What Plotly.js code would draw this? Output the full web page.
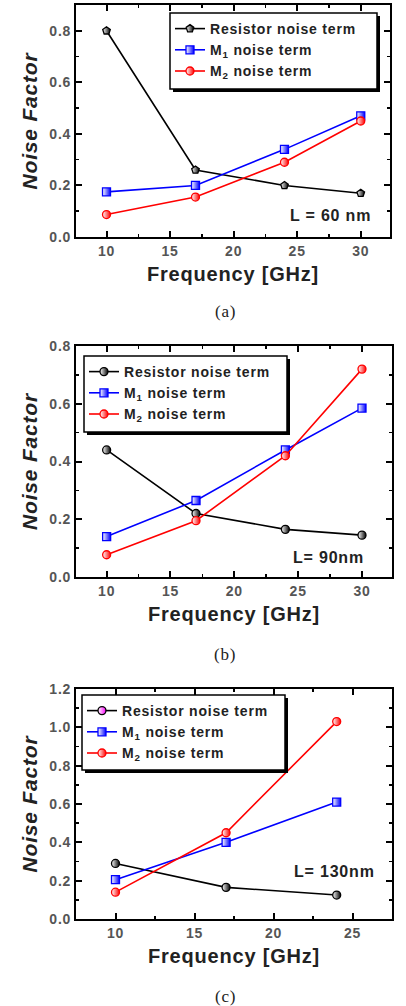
<!DOCTYPE html>
<html>
<head>
<meta charset="utf-8">
<script src="https://cdn.plot.ly/plotly-3.0.1.min.js"></script>
<style>
  html, body { margin: 0; padding: 0; background: #fff; }
  #chart { width: 406px; height: 1006px; }
  svg text { letter-spacing: 0.8px; }
</style>
</head>
<body>
<div id="chart"></div>
<script>
// Noise factor contributions vs. frequency for three gate lengths
const freqA = [10, 17, 24, 30];
const resistorA = [0.80, 0.26, 0.20, 0.17];
const m1A = [0.175, 0.20, 0.34, 0.47];
const m2A = [0.087, 0.155, 0.29, 0.45];

const freqB = [10, 17, 24, 30];
const resistorB = [0.44, 0.22, 0.165, 0.145];
const m1B = [0.14, 0.265, 0.44, 0.585];
const m2B = [0.077, 0.195, 0.42, 0.72];

const freqC = [10, 17, 24];
const resistorC = [0.29, 0.165, 0.125];
const m1C = [0.205, 0.40, 0.61];
const m2C = [0.14, 0.45, 1.03];

const seriesNames = ['Resistor noise term', 'M<sub>1</sub> noise term', 'M<sub>2</sub> noise term'];
const gateLabels = ['L = 60 nm', 'L= 90nm', 'L= 130nm'];
const panelLabels = ['(a)', '(b)', '(c)'];

// Figure geometry (pixels); the plot area spans x 76..392, y 5..919
const W = 406, H = 1006;
const M = { l: 76, r: 14, t: 5, b: 87 };
const PW = W - M.l - M.r, PH = H - M.t - M.b;
const px = x => (x - M.l) / PW;
const py = y => (H - M.b - y) / PH;

const SANS = 'Liberation Sans, Arial, sans-serif';
const SERIF = 'Liberation Serif, Times New Roman, serif';

function series(x, y, name, color, symbol, xa, ya, legend, showlegend, legendColor) {
  return {
    type: 'scatter', mode: 'lines+markers', x, y, name,
    xaxis: xa, yaxis: ya, legend, showlegend,
    line: { color, width: 1.6 },
    marker: {
      symbol, size: 8, color: 'white',
      gradient: { type: 'horizontal', color: legendColor || color },
      line: { color, width: 1.3 }
    },
    hoverinfo: 'skip'
  };
}

const traces = [
  series(freqA, resistorA, seriesNames[0], '#000000', 'pentagon', 'x', 'y', 'legend', true),
  series(freqA, m1A, seriesNames[1], '#0000ff', 'square', 'x', 'y', 'legend', true),
  series(freqA, m2A, seriesNames[2], '#ff0000', 'circle', 'x', 'y', 'legend', true),

  series(freqB, resistorB, seriesNames[0], '#000000', 'circle', 'x2', 'y2', 'legend2', true),
  series(freqB, m1B, seriesNames[1], '#0000ff', 'square', 'x2', 'y2', 'legend2', true),
  series(freqB, m2B, seriesNames[2], '#ff0000', 'circle', 'x2', 'y2', 'legend2', true),

  // legend entry for panel (c) carries a magenta swatch
  series([null], [null], seriesNames[0], '#000000', 'circle', 'x3', 'y3', 'legend3', true, '#ff00ff'),
  series(freqC, resistorC, seriesNames[0], '#000000', 'circle', 'x3', 'y3', 'legend3', false),
  series(freqC, m1C, seriesNames[1], '#0000ff', 'square', 'x3', 'y3', 'legend3', true),
  series(freqC, m2C, seriesNames[2], '#ff0000', 'circle', 'x3', 'y3', 'legend3', true)
];

const tickFont = { family: SANS, size: 14, color: '#555555', weight: 'bold' };
const titleFont = { family: SANS, size: 20, color: '#222222', weight: 'bold' };

function xAxis(domain, range, anchor) {
  return {
    domain, range, anchor,
    tick0: 0, dtick: 5,
    ticks: 'inside', ticklen: 6, tickwidth: 2, tickcolor: '#000',
    minor: { dtick: 2.5, ticks: 'inside', ticklen: 3, tickwidth: 1.5, tickcolor: '#000' },
    showline: true, linewidth: 2, linecolor: '#000', mirror: 'ticks',
    showgrid: false, zeroline: false,
    tickfont: tickFont,
    title: { text: 'Frequency [GHz]', font: titleFont, standoff: 9 }
  };
}

function yAxis(domain, range, anchor, dtick) {
  return {
    domain, range, anchor,
    tick0: 0, dtick,
    tickformat: '.1f',
    ticks: 'inside', ticklen: 6, tickwidth: 2, tickcolor: '#000',
    minor: { dtick: dtick / 2, ticks: 'inside', ticklen: 3, tickwidth: 1.5, tickcolor: '#000' },
    showline: true, linewidth: 2, linecolor: '#000', mirror: 'ticks',
    showgrid: false, zeroline: false,
    tickfont: tickFont,
    title: { text: 'Noise <i>Factor</i>', font: { family: SANS, size: 21, color: '#222222', weight: 'bold', style: 'italic' }, standoff: 6 }
  };
}

function legendAt(left, top) {
  return {
    x: px(left), y: py(top), xanchor: 'left', yanchor: 'top',
    bgcolor: 'rgba(0,0,0,0)', borderwidth: 0,
    font: { family: SANS, size: 14, color: '#222222', weight: 'bold' },
    itemwidth: 30, tracegroupgap: 0
  };
}

// legend frame with a drop shadow
function legendBox(x0, y0, x1, y1) {
  return [
    { type: 'rect', xref: 'paper', yref: 'paper', layer: 'above',
      x0: px(x0 + 3), x1: px(x1 + 3), y0: py(y0 + 3), y1: py(y1 + 3),
      fillcolor: '#000', line: { width: 0 } },
    { type: 'rect', xref: 'paper', yref: 'paper', layer: 'above',
      x0: px(x0), x1: px(x1), y0: py(y0), y1: py(y1),
      fillcolor: '#fff', line: { color: '#000', width: 1.5 } }
  ];
}

function note(text, right, midY) {
  return { text, xref: 'paper', yref: 'paper', x: px(right), y: py(midY),
    xanchor: 'right', yanchor: 'middle', showarrow: false,
    font: { family: SANS, size: 16, color: '#222222', weight: 'bold' } };
}

function panelLabel(text, cx, cy) {
  return { text, xref: 'paper', yref: 'paper', x: px(cx), y: py(cy),
    xanchor: 'center', yanchor: 'middle', showarrow: false,
    font: { family: SERIF, size: 17, color: '#222222' } };
}

const layout = {
  width: W, height: H,
  margin: M,
  paper_bgcolor: '#fff', plot_bgcolor: '#fff',
  hovermode: false,
  xaxis: xAxis([0, px(390)], [7.6, 32.3], 'y'),
  yaxis: yAxis([py(237), py(5)], [0, 0.9], 'x', 0.2),
  xaxis2: xAxis([0, px(392)], [7.6, 32.35], 'y2'),
  yaxis2: yAxis([py(577), py(346)], [0, 0.8], 'x2', 0.2),
  xaxis3: xAxis([0, px(392)], [7.5, 27.5], 'y3'),
  yaxis3: yAxis([py(919), py(689)], [0, 1.2], 'x3', 0.2),
  legend: legendAt(170, 13),
  legend2: legendAt(84, 356),
  legend3: legendAt(82, 695),
  shapes: [].concat(
    legendBox(170, 13, 377, 89),
    legendBox(84, 356, 287, 432),
    legendBox(82, 695, 285, 770)
  ),
  annotations: [
    note(gateLabels[0], 373, 216),
    note(gateLabels[1], 366, 557),
    note(gateLabels[2], 377, 871),
    panelLabel(panelLabels[0], 225, 311),
    panelLabel(panelLabels[1], 225, 655),
    panelLabel(panelLabels[2], 225, 996)
  ]
};

Plotly.newPlot('chart', traces, layout, { staticPlot: true, displayModeBar: false });
</script>
</body>
</html>
